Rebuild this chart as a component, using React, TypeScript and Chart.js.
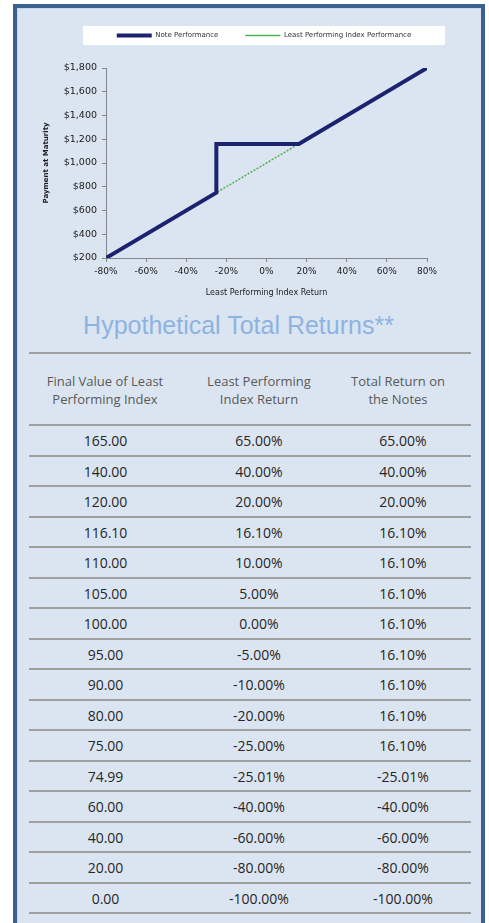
import React, { useEffect, useRef } from "react";
import { Chart, registerables } from "chart.js";

Chart.register(...registerables);

// ---- chart data ----
const seriesLabels = ["Note Performance", "Least Performing Index Performance"];
const noteReturns = [-80, -25, -25, 16.1, 80];
const notePayments = [200, 750, 1161, 1161, 1800];
const indexReturns = [-80, 80];
const indexPayments = [200, 1800];
const xTitle = "Least Performing Index Return";
const yTitle = "Payment at Maturity";

// ---- table data ----
const tableTitle = "Hypothetical Total Returns**";
const headers = [
  ["Final Value of Least", "Performing Index"],
  ["Least Performing", "Index Return"],
  ["Total Return on", "the Notes"],
];
const finalValues = [
  "165.00", "140.00", "120.00", "116.10", "110.00", "105.00", "100.00", "95.00",
  "90.00", "80.00", "75.00", "74.99", "60.00", "40.00", "20.00", "0.00",
];
const indexReturnCol = [
  "65.00%", "40.00%", "20.00%", "16.10%", "10.00%", "5.00%", "0.00%", "-5.00%",
  "-10.00%", "-20.00%", "-25.00%", "-25.01%", "-40.00%", "-60.00%", "-80.00%", "-100.00%",
];
const noteReturnCol = [
  "65.00%", "40.00%", "20.00%", "16.10%", "16.10%", "16.10%", "16.10%", "16.10%",
  "16.10%", "16.10%", "16.10%", "-25.01%", "-40.00%", "-60.00%", "-80.00%", "-100.00%",
];

const LEGEND_PAD = 27;
const LEGEND_FONT = 7;

const legendBg = {
  id: "legendBg",
  beforeDraw(chart: any) {
    const lg = chart.legend;
    if (!lg) return;
    const ctx = chart.ctx;
    const cx = (lg.left + lg.right) / 2;
    const cy = lg.top + LEGEND_PAD + LEGEND_FONT / 2;
    ctx.save();
    ctx.fillStyle = "#ffffff";
    ctx.fillRect(cx - 181, cy - 9.5, 362, 19);
    ctx.restore();
  },
};

function PayoffChart() {
  const ref = useRef<HTMLCanvasElement | null>(null);
  useEffect(() => {
    if (!ref.current) return;
    Chart.defaults.font.family = "'DejaVu Sans', sans-serif";
    const axisColor = "#868686";
    const chart = new Chart(ref.current, {
      type: "line",
      data: {
        datasets: [
          {
            label: seriesLabels[0],
            data: noteReturns.map((x, i) => ({ x, y: notePayments[i] })),
            borderColor: "#1b2270",
            backgroundColor: "#1b2270",
            borderWidth: 4,
            pointRadius: 0,
            tension: 0,
            fill: false,
            borderJoinStyle: "miter",
          },
          {
            label: seriesLabels[1],
            data: indexReturns.map((x, i) => ({ x, y: indexPayments[i] })),
            borderColor: "#4fae4f",
            backgroundColor: "#4fae4f",
            borderWidth: 1.5,
            borderDash: [2, 1.5],
            pointRadius: 0,
            tension: 0,
            fill: false,
          },
        ],
      },
      options: {
        animation: false,
        responsive: false,
        devicePixelRatio: 1,
        layout: { padding: { left: 29, right: 0, top: 0, bottom: 0 } },
        plugins: {
          tooltip: { enabled: false },
          legend: {
            display: true,
            position: "top",
            labels: {
              usePointStyle: true,
              pointStyle: "line",
              pointStyleWidth: 35,
              padding: LEGEND_PAD,
              color: "#333333",
              font: { size: LEGEND_FONT, family: "'DejaVu Sans', sans-serif" },
            },
          },
          subtitle: {
            display: true,
            text: "",
            position: "top",
            weight: 500,
            font: { size: 1, lineHeight: 1 },
            padding: { top: 18, bottom: 0 },
          },
        },
        scales: {
          x: {
            type: "linear",
            min: -80,
            max: 80,
            afterFit: (s: any) => {
              s.height = 52;
            },
            ticks: {
              stepSize: 20,
              padding: 4,
              color: "#1a1a1a",
              font: { size: 9 },
              maxRotation: 0,
              callback: (v: any) => `${v}%`,
            },
            grid: {
              display: true,
              drawOnChartArea: false,
              drawTicks: true,
              tickLength: 4,
              color: axisColor,
            },
            border: { display: true, color: axisColor, width: 1 },
            title: {
              display: true,
              text: xTitle,
              color: "#1a1a1a",
              font: { size: 8 },
              padding: { top: 0, bottom: 12 },
            },
          },
          y: {
            type: "linear",
            min: 200,
            max: 1800,
            afterFit: (s: any) => {
              s.width = 63;
            },
            ticks: {
              stepSize: 200,
              padding: 5,
              color: "#1a1a1a",
              font: { size: 9.5 },
              callback: (v: any) => "$" + Number(v).toLocaleString("en-US"),
            },
            grid: {
              display: true,
              drawOnChartArea: false,
              drawTicks: true,
              tickLength: 4,
              color: axisColor,
            },
            border: { display: true, color: axisColor, width: 1 },
            title: {
              display: true,
              text: yTitle,
              color: "#1a1a1a",
              font: { size: 7, weight: "bold", lineHeight: 1 },
              padding: { top: 0, bottom: 0 },
            },
          },
          y2: {
            type: "linear",
            position: "right",
            display: true,
            afterFit: (s: any) => {
              s.width = 58;
            },
            ticks: { display: false },
            grid: { display: false },
            border: { display: false },
            title: { display: false },
          },
        },
      } as any,
      plugins: [legendBg],
    });
    return () => chart.destroy();
  }, []);
  return (
    <canvas
      ref={ref}
      width={471}
      height={305}
      style={{ position: "absolute", left: 14, top: 5, width: 471, height: 305, display: "block" }}
    />
  );
}

export default function App() {
  useEffect(() => {
    document.body.style.overflow = "hidden";
  }, []);
  const tableFont = "'Open Sans', sans-serif";
  const colCenters = [105.5, 259, 403];
  const headerCenters = [105, 259, 398];
  const lineTop = 425;
  const rowH = 30.5;
  const lines = [];
  for (let i = 0; i <= finalValues.length; i++) {
    lines.push(
      <div
        key={"l" + i}
        style={{
          position: "absolute",
          left: 29,
          width: 442,
          top: lineTop + i * rowH - 1,
          height: 2,
          background: "#9f9f9f",
        }}
      />
    );
  }
  const cols = [finalValues, indexReturnCol, noteReturnCol];
  return (
    <div>
      <div
        style={{
          position: "absolute",
          left: 13,
          top: 4,
          width: 472,
          height: 919,
          boxSizing: "border-box",
          borderTop: "4px solid #3b6190",
          borderLeft: "4px solid #3b6190",
          borderRight: "4px solid #3b6190",
          borderBottom: "none",
          background: "#dbe5f1",
          boxShadow: "inset 1px 1px 0 #c6d6ea",
        }}
      />
      <PayoffChart />
      <div
        style={{
          position: "absolute",
          left: 0,
          width: 477,
          top: 310,
          height: 30,
          lineHeight: "30px",
          textAlign: "center",
          fontFamily: "'Liberation Sans', Arial, sans-serif",
          fontSize: 25,
          color: "#8db3e2",
          whiteSpace: "nowrap",
        }}
      >
        {tableTitle}
      </div>
      <div
        style={{
          position: "absolute",
          left: 29,
          width: 442,
          top: 352,
          height: 2,
          background: "#9f9f9f",
        }}
      />
      {headers.map((h, ci) => (
        <div
          key={"h" + ci}
          style={{
            position: "absolute",
            left: headerCenters[ci] - 80,
            width: 160,
            top: 372,
            textAlign: "center",
            fontFamily: tableFont,
            fontSize: 13,
            lineHeight: "18px",
            color: "#595959",
            whiteSpace: "nowrap",
          }}
        >
          {h[0]}
          <br />
          {h[1]}
        </div>
      ))}
      {lines}
      {cols.map((col, ci) =>
        col.map((v, ri) => (
          <div
            key={"c" + ci + "-" + ri}
            style={{
              position: "absolute",
              left: colCenters[ci] - 60,
              width: 120,
              top: lineTop + ri * rowH + 1,
              height: rowH - 1,
              lineHeight: rowH - 1 + "px",
              textAlign: "center",
              fontFamily: tableFont,
              fontSize: 14,
              color: "#262626",
              whiteSpace: "nowrap",
            }}
          >
            {v}
          </div>
        ))
      )}
    </div>
  );
}
